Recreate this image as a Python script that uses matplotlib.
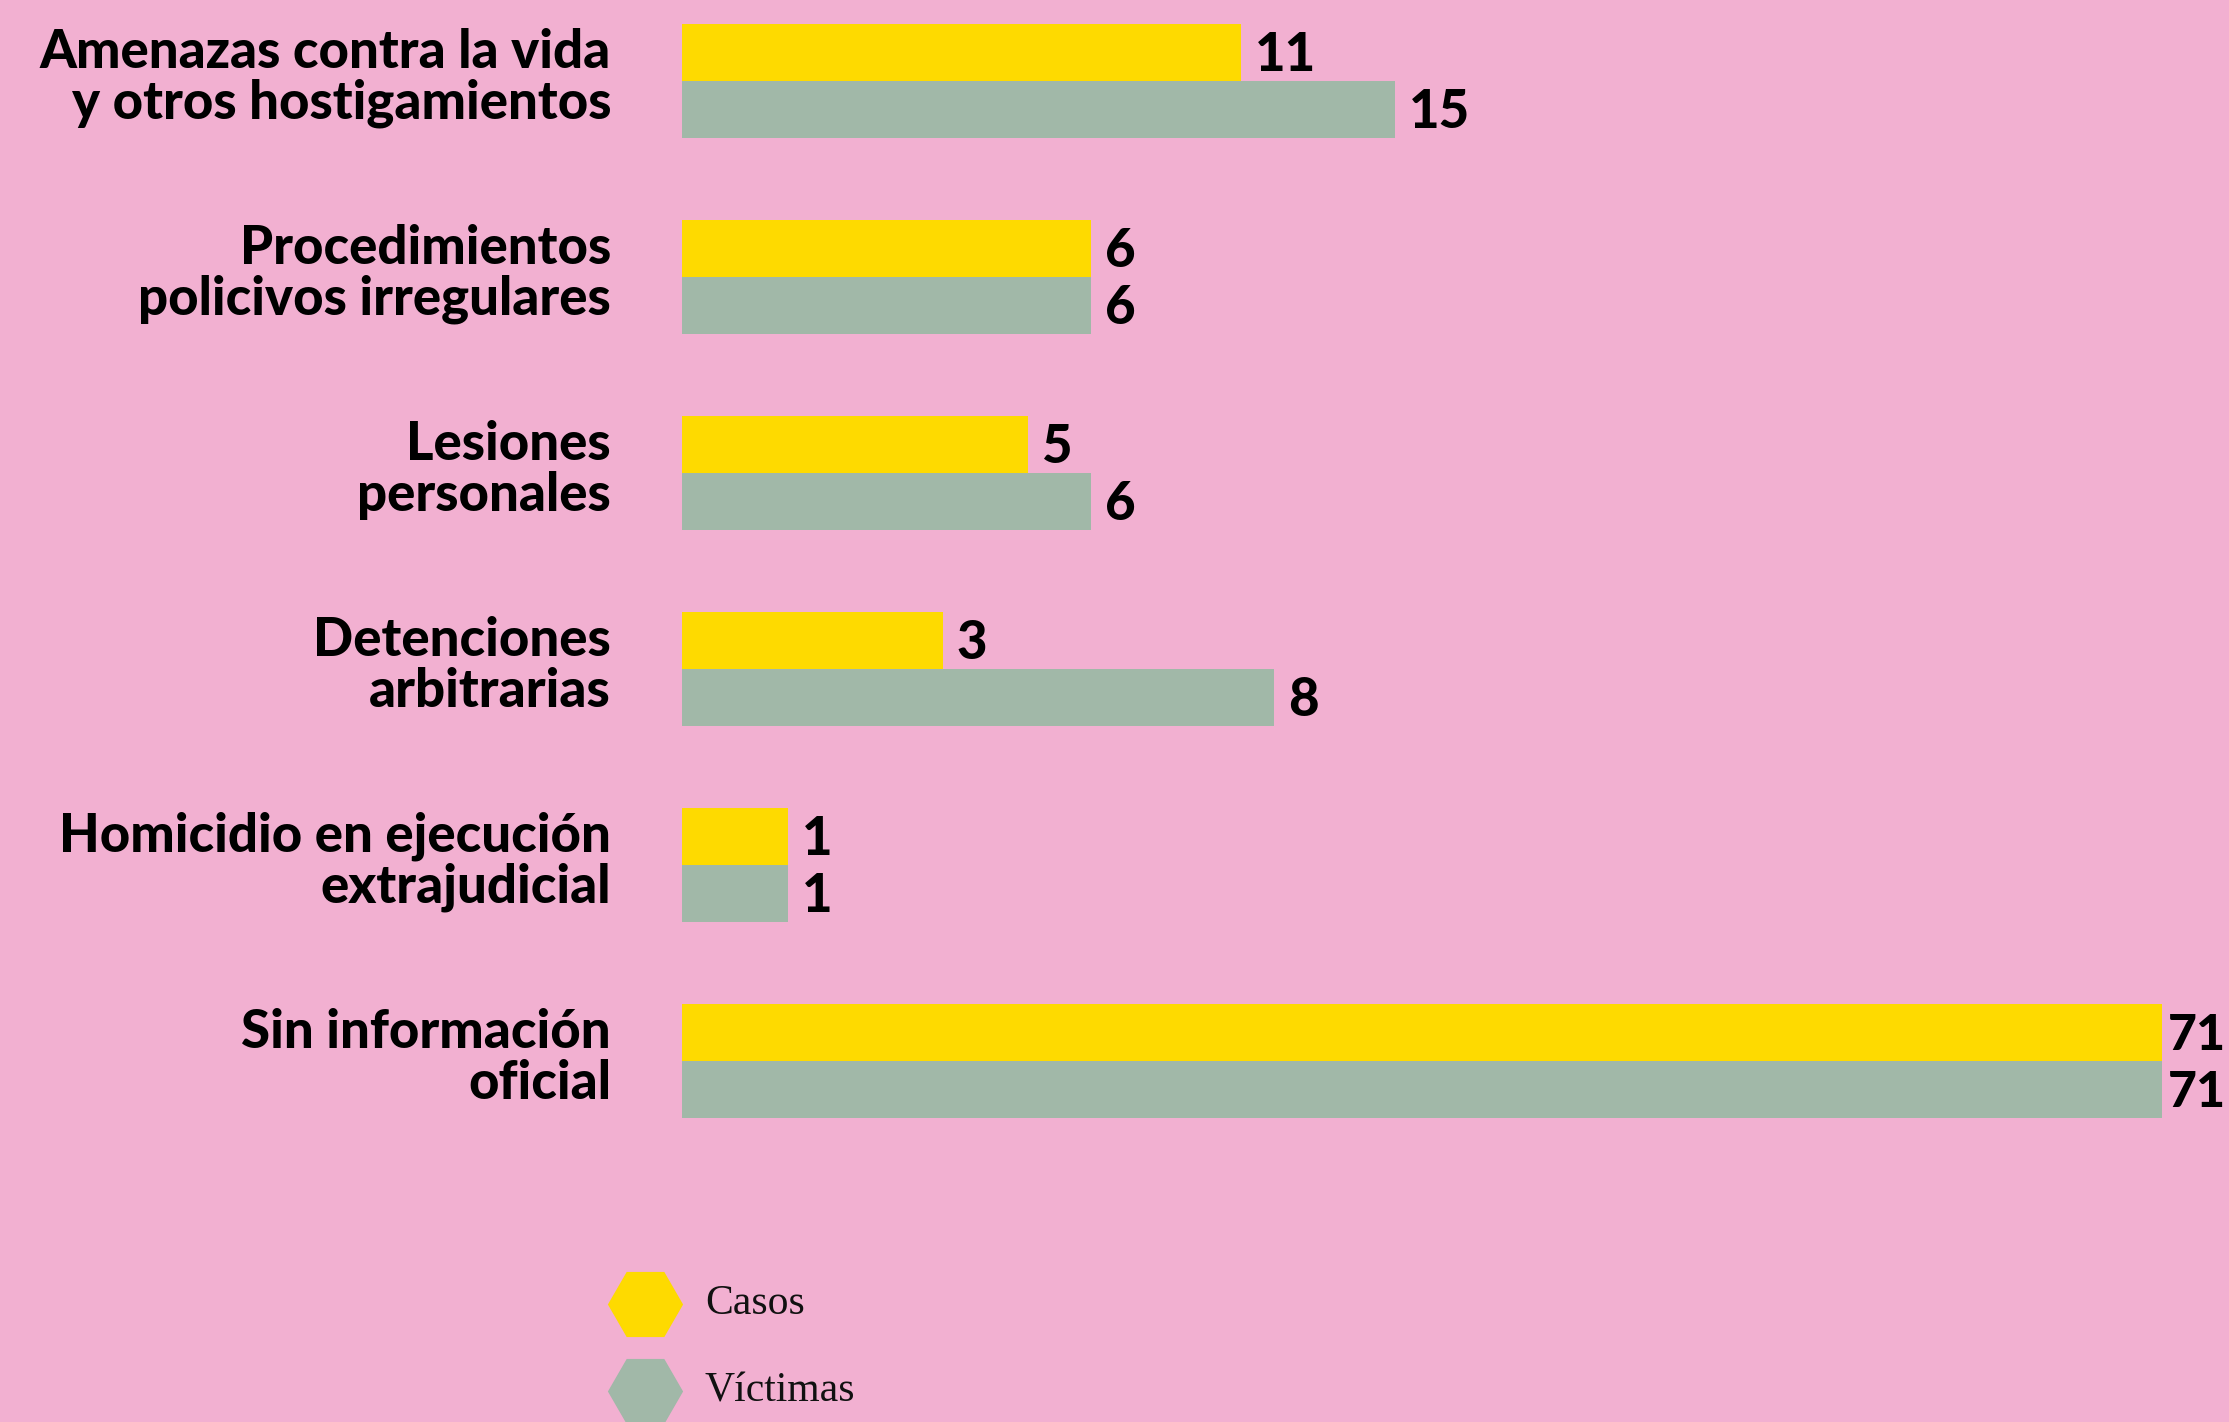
import numpy as np
import matplotlib
matplotlib.use("Agg")
import matplotlib.pyplot as plt

# data
categorias = [
    "Amenazas contra la vida\ny otros hostigamientos",
    "Procedimientos\npolicivos irregulares",
    "Lesiones\npersonales",
    "Detenciones\narbitrarias",
    "Homicidio en ejecución\nextrajudicial",
    "Sin información\noficial",
]
casos = [11, 6, 5, 3, 1, 71]
victimas = [15, 6, 6, 8, 1, 71]
# bar lengths as drawn in the original (not to scale)
casos_largo = [26.8, 19.6, 16.6, 12.5, 5.1, 71]
victimas_largo = [34.2, 19.6, 19.6, 28.4, 5.1, 71]
series = ["Casos", "Víctimas"]

# colours
fondo = "#F2B0D1"
amarillo = "#FEDA00"
verde = "#A1B8A8"

W, H = 2229, 1422
fig = plt.figure(figsize=(W / 100, H / 100), dpi=100, facecolor=fondo)
ax = fig.add_axes([682 / W, 0, 1480 / W, 1])
ax.set_facecolor(fondo)

y = np.arange(len(categorias))
alto = 0.29
ax.barh(y - alto / 2, casos_largo, height=alto, color=amarillo, linewidth=0)
ax.barh(y + alto / 2, victimas_largo, height=alto, color=verde, linewidth=0)

ax.set_xlim(0, 71)
ax.set_ylim(6.842, -0.413)
ax.axis("off")

fuente = dict(family=["Lato", "DejaVu Sans"], weight="black", color="black")

for i in range(len(categorias)):
    pad = 14 if casos[i] < 71 else 6
    ax.annotate(str(casos[i]), (casos_largo[i], y[i] - alto / 2), xytext=(pad, -3),
                textcoords="offset pixels", va="center", ha="left",
                fontsize=38 if casos[i] < 71 else 36, annotation_clip=False, **fuente)
    pad = 14 if victimas[i] < 71 else 6
    ax.annotate(str(victimas[i]), (victimas_largo[i], y[i] + alto / 2), xytext=(pad, -3),
                textcoords="offset pixels", va="center", ha="left",
                fontsize=38 if victimas[i] < 71 else 36, annotation_clip=False, **fuente)
    ax.annotate(categorias[i], (0, y[i]), xytext=(-71, 3),
                textcoords="offset pixels", va="center", ha="right",
                fontsize=38, linespacing=1.03, annotation_clip=False, **fuente)

# legend with hexagons
colores = [amarillo, verde]
for k, nombre in enumerate(series):
    yy = 1 - (1304 + 87 * k) / H
    ax.plot([645 / W], [yy], marker="H", markersize=53, color=colores[k],
            transform=fig.transFigure, clip_on=False, linestyle="none")
    fig.text(705 / W, yy, nombre, family="Liberation Serif", fontsize=30,
             va="center", ha="left", color="#111111")

fig.savefig("out.png", dpi=100, facecolor=fondo)
